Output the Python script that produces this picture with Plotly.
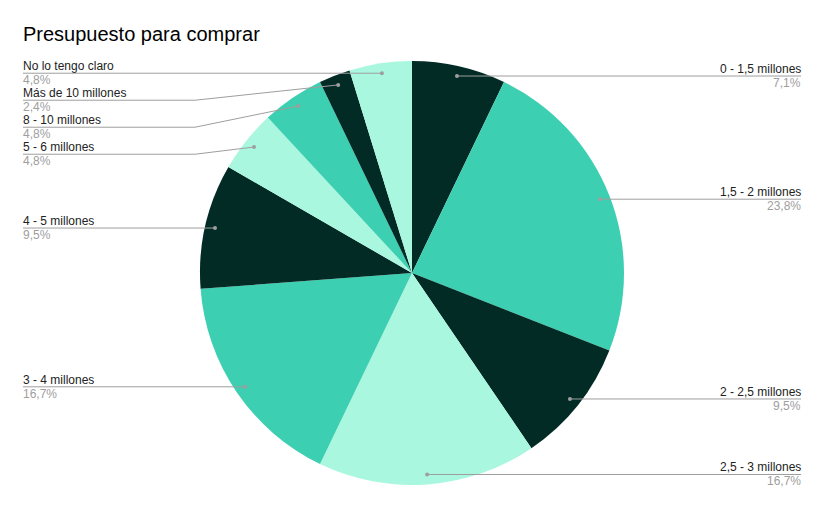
import math
import plotly.graph_objects as go

labels = ["0 - 1,5 millones", "1,5 - 2 millones", "2 - 2,5 millones", "2,5 - 3 millones",
          "3 - 4 millones", "4 - 5 millones", "5 - 6 millones", "8 - 10 millones",
          "Más de 10 millones", "No lo tengo claro"]
values = [3, 10, 4, 7, 7, 4, 2, 2, 1, 2]
colors = ["#022b26", "#3dcfb1", "#022b26", "#a9f7df", "#3dcfb1",
          "#022b26", "#a9f7df", "#3dcfb1", "#022b26", "#a9f7df"]

W, H = 824, 506
OFF = 8  # page body margin offset
CX, CY, R = 412, 273, 212
FONT = "Arial, Liberation Sans, sans-serif"

fig = go.Figure()
fx, fy = CX - OFF, CY - OFF
fig.add_trace(go.Pie(
    labels=labels, values=values, sort=False, direction="clockwise", rotation=0,
    marker=dict(colors=colors, line=dict(width=0)),
    textinfo="none", hoverinfo="label+percent", showlegend=False,
    domain=dict(x=[(fx - R) / W, (fx + R) / W], y=[(H - fy - R) / H, (H - fy + R) / H]),
))

# leader lines and labels computed from the values
total = sum(values)
cum = 0
pts = []
for lab, v in zip(labels, values):
    mid = (cum + v / 2) / total * 2 * math.pi
    cum += v
    rd = R * 0.953
    x = CX + rd * math.sin(mid)
    y = CY - rd * math.cos(mid)
    pct = f"{100 * v / total:.1f}%".replace(".", ",")
    pts.append(dict(label=lab, x=x, y=y, pct=pct, right=math.sin(mid) >= 0))

shapes = []
annotations = []
line_col = "#9e9e9e"


def seg(x0, y0, x1, y1):
    shapes.append(dict(type="line", x0=x0, y0=y0, x1=x1, y1=y1,
                       line=dict(color=line_col, width=1), xref="x", yref="y"))


for side in (True, False):
    grp = sorted([p for p in pts if p["right"] == side], key=lambda p: p["y"])
    prev = -1e9
    for p in grp:
        ly = max(p["y"], prev + 27)
        prev = ly
        if side:
            seg(p["x"], p["y"], 801, ly)
            ax, anc = 802, "right"
        else:
            if abs(ly - p["y"]) < 0.5:
                seg(23, ly, p["x"], p["y"])
            else:
                seg(23, ly, 195, ly)
                seg(195, ly, p["x"], p["y"])
            ax, anc = 22, "left"
        shapes.append(dict(type="circle", x0=p["x"] - 2, x1=p["x"] + 2, y0=p["y"] - 2, y1=p["y"] + 2,
                           fillcolor=line_col, line=dict(width=0), xref="x", yref="y"))
        annotations.append(dict(x=ax, y=ly - 7, xref="x", yref="y", text=p["label"],
                                showarrow=False, xanchor=anc, yanchor="middle",
                                font=dict(family=FONT, size=12, color="#222222"), borderpad=0))
        annotations.append(dict(x=ax, y=ly + 7, xref="x", yref="y", text=p["pct"],
                                showarrow=False, xanchor=anc, yanchor="middle",
                                font=dict(family=FONT, size=12, color="#9e9e9e"), borderpad=0))

annotations.append(dict(x=22, y=34, xref="x", yref="y", text="Presupuesto para comprar",
                        showarrow=False, xanchor="left", yanchor="middle", borderpad=0,
                        font=dict(family=FONT, size=20, color="#000000")))

fig.update_layout(
    width=W, height=H, margin=dict(l=0, r=0, t=0, b=0),
    paper_bgcolor="white", plot_bgcolor="rgba(0,0,0,0)",
    xaxis=dict(range=[OFF, W + OFF], visible=False, fixedrange=True),
    yaxis=dict(range=[H + OFF, OFF], visible=False, fixedrange=True),
    shapes=shapes, annotations=annotations,
)
fig.write_html("out.html")
